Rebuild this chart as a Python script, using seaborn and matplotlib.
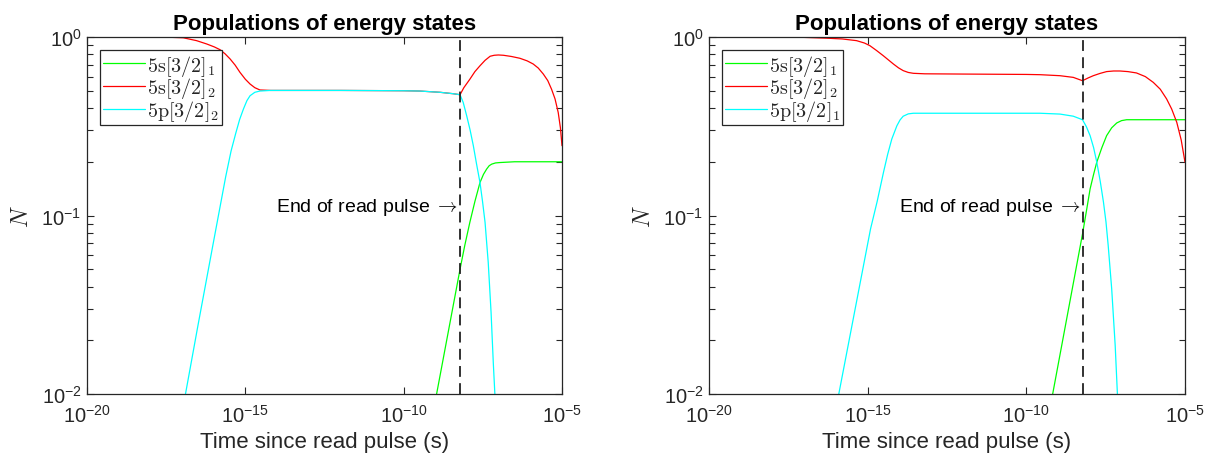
import numpy as np
import pandas as pd
import matplotlib
matplotlib.use("Agg")
import matplotlib.pyplot as plt
from matplotlib.ticker import NullLocator, LogLocator, FixedLocator
import seaborn as sns

# ---------------- data (log10 of time in s, population N) ----------------
red_L_logt = [-18.0, -17.5, -16.96, -16.54, -16.22, -15.98, -15.80, -15.64, -15.48, -15.32,
              -15.17, -15.0, -14.85, -14.70, -14.54, -14.2, -12.0, -10.0, -9.49, -8.85,
              -8.43, -8.22, -8.10, -7.91, -7.75, -7.59, -7.43, -7.27, -7.14, -7.01, -6.85,
              -6.6, -6.33, -6.1, -5.91, -5.75, -5.59, -5.45, -5.33, -5.22, -5.12, -5.05, -5.0]
red_L_N = [1.0, 0.998, 0.99, 0.954, 0.914, 0.88, 0.849, 0.805, 0.753, 0.695,
           0.634, 0.58, 0.545, 0.52, 0.505, 0.502, 0.502, 0.500, 0.498, 0.490,
           0.481, 0.475, 0.52, 0.58, 0.64, 0.69, 0.74, 0.78, 0.79, 0.793, 0.79,
           0.778, 0.76, 0.735, 0.706, 0.67, 0.62, 0.57, 0.51, 0.45, 0.378, 0.31, 0.246]

cyan_L_logt = [-18.0, -16.89, -16.5, -16.0, -15.62, -15.45, -15.30, -15.18, -15.06, -14.95,
               -14.85, -14.70, -14.54, -14.2, -12.0, -10.0, -9.49, -8.85, -8.43, -8.22,
               -8.12, -8.01, -7.90, -7.80, -7.70, -7.59, -7.51, -7.43, -7.33, -7.24,
               -7.17, -7.12, -7.0]
cyan_L_N = [0.0008, 0.01, 0.024, 0.072, 0.165, 0.23, 0.29, 0.345, 0.395, 0.44,
            0.469, 0.49, 0.498, 0.502, 0.502, 0.500, 0.498, 0.490, 0.481, 0.475,
            0.43, 0.362, 0.30, 0.246, 0.195, 0.153, 0.12, 0.0916, 0.0547, 0.0287,
            0.015, 0.01, 0.0035]

green_L_logt = [-9.5, -8.96, -8.22, -8.07, -7.91, -7.75, -7.59, -7.48, -7.38, -7.30,
                -7.22, -7.10, -6.96, -6.5, -5.0]
green_L_N = [0.003, 0.01, 0.05, 0.068, 0.0916, 0.12, 0.153, 0.17, 0.182, 0.19,
             0.194, 0.197, 0.198, 0.2, 0.2]

red_R_logt = [-18.0, -17.0, -16.3, -15.8, -15.35, -15.1, -14.93, -14.72, -14.51, -14.35,
              -14.19, -14.03, -13.88, -13.72, -13.56, -13.2, -12.0, -10.0, -9.57, -8.94,
              -8.52, -8.23, -8.05, -7.89, -7.68, -7.47, -7.25, -7.05, -6.8, -6.53, -6.25,
              -6.0, -5.78, -5.58, -5.42, -5.26, -5.12, -5.0]
red_R_N = [1.0, 0.995, 0.985, 0.975, 0.954, 0.925, 0.894, 0.84, 0.786, 0.745,
           0.706, 0.672, 0.648, 0.633, 0.626, 0.622, 0.62, 0.617, 0.615, 0.607,
           0.594, 0.569, 0.59, 0.607, 0.625, 0.64, 0.645, 0.645, 0.64, 0.629, 0.60,
           0.557, 0.51, 0.45, 0.395, 0.333, 0.265, 0.199]

cyan_R_logt = [-17.0, -15.91, -14.91, -14.7, -14.5, -14.37, -14.24, -14.08, -13.98, -13.88,
               -13.72, -13.56, -12.0, -10.0, -9.57, -8.94, -8.52, -8.23, -8.11, -7.99,
               -7.88, -7.78, -7.67, -7.57, -7.49, -7.42, -7.31, -7.20, -7.13, -7.0]
cyan_R_N = [0.0008, 0.01, 0.084, 0.12, 0.175, 0.22, 0.268, 0.318, 0.343, 0.36,
            0.371, 0.374, 0.374, 0.374, 0.374, 0.37, 0.36, 0.344, 0.315, 0.28,
            0.24, 0.199, 0.155, 0.119, 0.092, 0.0678, 0.0388, 0.0187, 0.01, 0.003]

green_R_logt = [-9.7, -9.17, -8.23, -8.11, -7.99, -7.88, -7.78, -7.62, -7.47, -7.31,
                -7.15, -7.0, -6.84, -5.0]
green_R_N = [0.003, 0.01, 0.0788, 0.105, 0.141, 0.17, 0.199, 0.24, 0.28, 0.31,
             0.33, 0.34, 0.344, 0.344]

read_end_logt = -8.22
title_text = "Populations of energy states"
xlabel_text = "Time since read pulse (s)"
ylabel_text = r"$N$"
note_text = r"End of read pulse $\rightarrow$"
labels_L = [r"$\mathrm{5s}[3/2]_1$", r"$\mathrm{5s}[3/2]_2$", r"$\mathrm{5p}[3/2]_2$"]
labels_R = [r"$\mathrm{5s}[3/2]_1$", r"$\mathrm{5s}[3/2]_2$", r"$\mathrm{5p}[3/2]_1$"]
series_colors = ["#00FF00", "#FF0000", "#00FFFF"]
xticks_exp = [-20, -15, -10, -5]

# ---------------- style ----------------
sns.set_theme(style="white")
plt.rcParams["font.family"] = ["Liberation Sans", "DejaVu Sans"]
plt.rcParams["mathtext.fontset"] = "cm"
plt.rcParams["axes.unicode_minus"] = False

fig = plt.figure(figsize=(12.06, 4.64), dpi=100)
W, H = 1206, 464
axL = fig.add_axes([87 / W, 1 - 395 / H, (562 - 87) / W, (395 - 38) / H])
axR = fig.add_axes([709 / W, 1 - 395 / H, (1185 - 709) / W, (395 - 38) / H])

panels = [
    (axL, [(green_L_logt, green_L_N), (red_L_logt, red_L_N), (cyan_L_logt, cyan_L_N)], labels_L),
    (axR, [(green_R_logt, green_R_N), (red_R_logt, red_R_N), (cyan_R_logt, cyan_R_N)], labels_R),
]

dark = "#262626"
for ax, series, labels in panels:
    ax.set_xscale("log")
    ax.set_yscale("log")
    for (lt, n), col, lab in zip(series, series_colors, labels):
        df = pd.DataFrame({"t": 10.0 ** np.array(lt), "N": n})
        sns.lineplot(data=df, x="t", y="N", ax=ax, color=col, lw=0.9,
                     estimator=None, sort=False, label=lab, legend=False)
    ax.axvline(10.0 ** read_end_logt, color="#222222", ls=(0, (6, 3.5)), lw=1.3)
    ax.set_xlim(1e-20, 1e-5)
    ax.set_ylim(1e-2, 1)
    ax.xaxis.set_major_locator(FixedLocator([10.0 ** e for e in xticks_exp]))
    ax.xaxis.set_minor_locator(NullLocator())
    ax.yaxis.set_major_locator(LogLocator(base=10))
    ax.yaxis.set_minor_locator(LogLocator(base=10, subs=np.arange(2, 10)))
    ax.tick_params(which="both", direction="in", top=True, right=True, bottom=True, left=True,
                   color=dark, width=0.8, labelsize=14.5, labelcolor=dark)
    ax.tick_params(which="major", length=5)
    ax.tick_params(which="minor", length=4.5)
    ax.tick_params(axis="x", pad=7)
    ax.tick_params(axis="y", pad=4)
    for sp in ax.spines.values():
        sp.set_color(dark)
        sp.set_linewidth(0.9)
    ax.set_title(title_text, fontsize=16, fontweight="bold", color="black", pad=6)
    ax.set_xlabel(xlabel_text, fontsize=16, color=dark, labelpad=4)
    ax.set_ylabel(ylabel_text, fontsize=17, color=dark, labelpad=6)
    ax.text(10.0 ** (read_end_logt - 0.07), 0.113, note_text, ha="right", va="center",
            fontsize=14, color="black")
    h, l = ax.get_legend_handles_labels()
    leg = ax.legend(h, l, loc="upper left", fontsize=14.5, frameon=True, fancybox=False,
                    framealpha=1, edgecolor=dark, handlelength=2.1, handletextpad=0.12,
                    borderaxespad=0.65, labelspacing=-0.12, borderpad=0.12)
    leg.get_frame().set_linewidth(0.9)

fig.savefig("out.png", dpi=100)
